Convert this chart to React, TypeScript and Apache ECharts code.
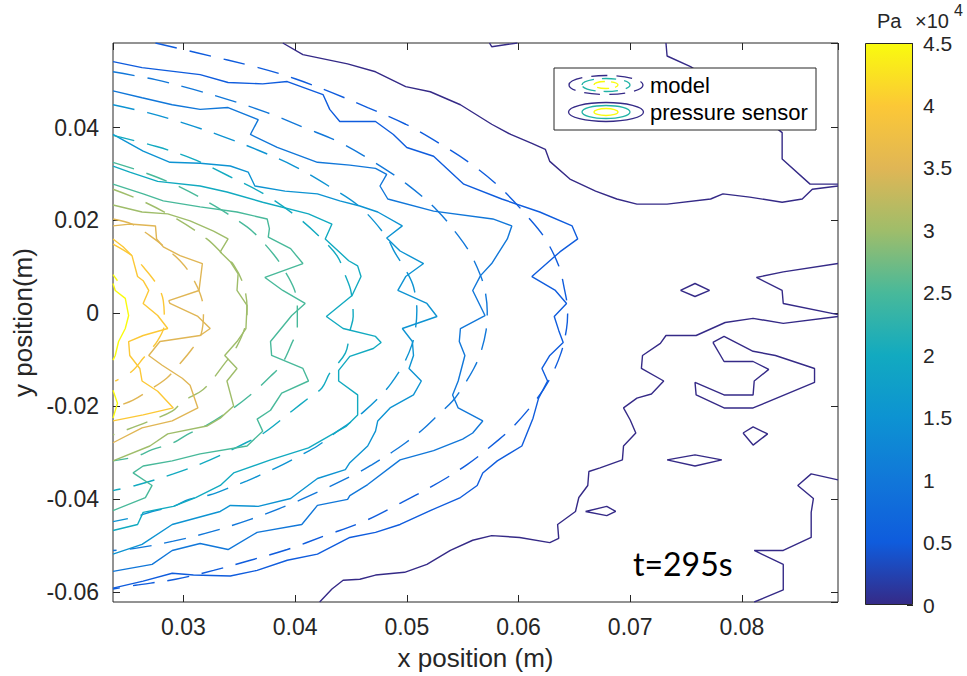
import React, { useEffect, useRef } from "react";
import * as echarts from "echarts";

// ---------- axis ticks (metres) and colour bar ticks (x10^4 Pa) ----------
const xTickLabels = [0.03, 0.04, 0.05, 0.06, 0.07, 0.08];
const yTickLabels = [-0.06, -0.04, -0.02, 0, 0.02, 0.04];
const colorbarTicks = [0, 0.5, 1, 1.5, 2, 2.5, 3, 3.5, 4, 4.5];
// contour levels in Pa (10 levels, 0 .. 45000)
const contourLevels = [0, 5000, 10000, 15000, 20000, 25000, 30000, 35000, 40000, 45000];
const pressureMax = 45000;

// ---------- contour polylines, coordinates in mm: [x, y] ----------
// level 1 (0 Pa) – pressure sensor
const sensorL1a = [[38.9,58.2],[40.7,55.7],[44.7,53.7],[47.2,52.0],[49.9,48.8],[52.1,47.7],[54.8,44.9],[57.6,40.7],[59.3,38.5],[61.2,36.6],[62.4,35.3],[62.8,32.7],[64.6,28.9],[66.9,26.3],[68.8,24.6],[70.6,23.5],[73.3,23.5],[77.2,24.6],[78.3,25.7],[80.7,25.0],[83.6,23.9],[85.4,24.6],[86.3,26.7],[88.6,27.4]];
const sensorL1b = [[73.2,58.2],[73.3,55.4],[75.4,53.1],[79.9,46.0],[83.6,38.9],[83.6,33.2],[86.1,27.8],[88.6,27.8]];
const sensorL1c = [[57.4,58.2],[57.6,57.4],[59.9,58.2]];
const sensorL1d = [[88.6,10.7],[83.7,8.9],[81.3,7.7],[83.6,4.9],[83.7,2.1],[88.6,-0.3]];
const sensorL1e = [[74.5,4.9],[75.8,6.4],[77.1,4.9],[75.8,3.6],[74.5,4.9]];
const sensorL1f = [[88.6,-0.7],[83.7,-2.2],[81.0,-1.1],[78.5,-2.0],[75.9,-4.8],[73.2,-4.8],[72.7,-6.5],[71.1,-9.1],[71.0,-11.9],[73.0,-14.6],[71.9,-17.4],[70.6,-18.3],[69.4,-20.4],[70.0,-23.0],[70.5,-25.8],[69.4,-28.6],[69.3,-31.6],[67.3,-33.3],[66.3,-34.1],[66.2,-37.1],[65.4,-39.7],[65.1,-42.7],[63.5,-45.5],[63.6,-48.5],[62.8,-49.4],[60.1,-48.3],[57.6,-47.9],[55.9,-48.9],[53.9,-51.1],[51.8,-54.1],[49.8,-55.8],[47.2,-56.4],[45.8,-57.3],[44.3,-57.5],[43.3,-59.4],[42.2,-62.2]];
const sensorL1g = [[77.4,-6.3],[78.4,-5.0],[81.0,-8.2],[83.0,-9.1],[86.5,-11.9],[86.5,-14.9],[81.0,-20.4],[78.4,-20.4],[75.9,-17.6],[75.8,-14.9],[78.4,-17.6],[81.0,-17.6],[81.1,-14.6],[82.4,-12.1],[81.0,-10.4],[78.4,-10.4],[77.4,-6.3]];
const sensorL1h = [[80.1,-25.8],[81.0,-24.5],[82.3,-26.0],[81.0,-28.4],[80.1,-25.8]];
const sensorL1i = [[73.3,-31.6],[75.8,-30.5],[78.2,-31.6],[75.8,-32.9],[73.3,-31.6]];
const sensorL1j = [[66.0,-42.7],[67.9,-41.6],[68.7,-42.7],[67.9,-43.6],[66.0,-42.7]];
const sensorL1k = [[88.6,-35.9],[86.2,-34.6],[85.0,-37.1],[86.4,-39.9],[86.2,-42.9],[86.2,-48.3],[83.7,-51.1],[81.1,-51.1],[83.7,-54.1],[83.7,-59.6],[81.1,-62.2]];

// level 2
const sensorL2 = [[23.7,54.2],[26.3,52.9],[31.5,51.4],[34.0,49.7],[37.1,49.4],[39.3,49.9],[42.5,47.1],[43.1,43.9],[44.0,41.3],[47.2,41.3],[48.8,38.5],[50.0,35.7],[52.4,33.8],[55.1,27.8],[58.5,24.6],[61.9,21.8],[64.8,18.8],[65.3,16.0],[63.7,13.2],[62.8,11.3],[61.2,7.9],[63.3,4.9],[64.3,2.1],[63.2,-0.7],[63.6,-3.7],[64.0,-6.3],[62.8,-9.1],[62.1,-11.9],[62.6,-14.6],[61.8,-18.3],[61.3,-22.6],[60.3,-28.6],[58.1,-31.8],[56.8,-34.4],[56.3,-37.1],[54.8,-39.7],[52.1,-42.5],[49.4,-45.5],[47.2,-47.2],[44.9,-48.3],[42.0,-51.9],[39.3,-53.2],[36.6,-55.4],[34.2,-56.6],[30.9,-56.4],[29.0,-56.0],[26.4,-57.7],[23.7,-59.2]];
const modelL2 = [[27.5,58.2],[31.2,56.1],[36.7,52.9],[40.0,50.5],[43.3,47.5],[46.5,44.3],[49.9,40.7],[52.9,36.6],[55.9,31.9],[58.6,26.5],[61.0,20.3],[62.4,16.0],[63.6,10.2],[64.1,5.3],[64.4,0.4],[64.3,-3.3],[63.8,-8.6],[62.7,-14.6],[61.5,-18.9],[59.5,-24.5],[58.1,-27.5],[55.4,-32.6],[52.4,-37.1],[49.2,-41.2],[46.1,-44.9],[42.7,-47.9],[39.3,-50.9],[36.0,-53.2],[32.7,-55.4],[29.3,-57.3],[25.7,-58.6],[23.7,-59.4]];

// level 3
const sensorL3 = [[23.7,47.9],[26.3,46.4],[29.0,44.9],[31.5,43.9],[34.0,44.3],[36.7,41.7],[36.0,38.5],[38.4,35.7],[42.0,32.5],[44.9,31.9],[47.2,31.2],[48.2,29.9],[47.6,27.4],[48.3,24.6],[52.4,22.0],[57.7,20.3],[59.4,18.8],[59.0,16.0],[57.6,10.7],[56.6,8.1],[55.9,4.9],[57.0,-0.5],[54.8,-3.3],[54.7,-6.1],[55.2,-9.1],[54.6,-14.6],[54.1,-17.6],[54.6,-20.4],[56.8,-23.2],[55.9,-25.8],[55.0,-27.1],[52.4,-29.6],[49.4,-31.6],[46.5,-36.9],[44.9,-39.3],[44.7,-40.1],[42.0,-41.4],[40.6,-45.5],[36.6,-47.2],[34.0,-50.9],[31.5,-49.6],[29.0,-51.1],[27.2,-54.1],[23.7,-55.6]];
const modelL3 = [[23.7,52.0],[27.5,50.3],[30.9,48.2],[34.3,45.8],[37.5,43.2],[40.8,40.0],[44.0,36.8],[47.1,32.5],[50.0,27.8],[52.7,22.2],[54.6,16.7],[55.7,12.8],[56.6,8.1],[57.0,4.9],[57.2,0.4],[57.1,-3.7],[56.6,-8.6],[56.0,-11.9],[55.0,-15.9],[54.1,-18.9],[52.5,-22.6],[51.5,-24.9],[49.9,-27.9],[48.7,-29.9],[46.9,-32.6],[45.6,-34.4],[42.5,-38.0],[39.3,-41.4],[36.0,-44.4],[32.6,-47.0],[29.1,-49.1],[25.8,-50.6],[23.7,-51.1]];

// level 4
const sensorL4 = [[23.7,38.5],[26.4,34.9],[28.8,32.5],[31.5,32.3],[34.2,31.7],[35.8,30.4],[36.4,27.4],[39.1,26.3],[42.0,25.7],[44.0,24.2],[45.8,23.1],[47.4,21.8],[49.6,18.8],[48.2,16.2],[49.4,13.4],[51.5,10.7],[49.9,7.9],[49.2,4.9],[51.8,2.1],[52.7,-0.7],[49.6,-3.3],[50.5,-6.1],[50.6,-9.1],[50.2,-11.9],[51.3,-14.6],[50.6,-17.6],[48.5,-20.4],[47.4,-23.2],[47.2,-25.4],[46.5,-28.6],[44.9,-32.2],[44.5,-33.7],[42.0,-35.6],[39.6,-39.9],[36.7,-41.6],[34.2,-41.4],[33.3,-42.7],[29.0,-45.5],[26.3,-49.8],[23.7,-51.9]];
const modelL4 = [[23.7,44.9],[26.8,43.2],[30.1,40.9],[33.5,38.1],[36.7,35.1],[39.9,31.7],[43.0,27.4],[45.8,22.9],[48.2,16.4],[48.9,13.2],[50.0,8.9],[50.6,5.7],[50.9,0.6],[50.8,-2.9],[50.5,-6.5],[49.7,-11.0],[48.6,-15.1],[47.6,-17.9],[46.1,-21.3],[44.9,-23.6],[43.8,-25.4],[42.0,-28.6],[40.4,-30.7],[38.9,-32.6],[37.1,-34.6],[35.7,-36.1],[33.9,-37.8],[32.4,-39.1],[30.5,-40.1],[29.1,-41.6],[27.2,-42.7],[25.8,-43.8],[23.7,-44.9]];

// level 5
const sensorL5 = [[23.7,31.7],[25.2,30.4],[27.7,28.4],[31.5,27.4],[33.9,26.1],[37.1,23.9],[41.2,21.4],[43.3,19.2],[42.7,16.0],[44.8,11.3],[45.6,10.2],[45.9,7.9],[45.1,3.8],[42.8,-0.7],[44.3,-3.3],[47.2,-5.0],[47.7,-6.3],[47.0,-7.6],[44.9,-9.3],[43.9,-12.3],[43.9,-14.6],[45.6,-17.6],[45.6,-21.9],[44.6,-24.3],[41.2,-29.0],[37.8,-31.6],[34.5,-34.4],[33.3,-37.1],[31.1,-39.7],[29.1,-41.6],[26.4,-42.9],[25.9,-45.5],[23.7,-46.8]];
const modelL5 = [[23.7,38.3],[27.6,35.9],[30.9,33.2],[34.1,29.5],[37.2,25.7],[40.1,20.9],[42.4,16.0],[43.8,12.2],[44.5,8.1],[45.0,4.7],[45.2,-0.7],[44.9,-3.9],[44.5,-8.6],[43.1,-12.9],[42.4,-16.1],[41.2,-18.3],[39.7,-21.1],[37.2,-25.8],[35.6,-27.9],[32.4,-31.6],[29.1,-34.6],[25.7,-37.1],[23.7,-38.2]];

// level 6
const sensorL6 = [[23.7,27.8],[26.4,25.7],[28.2,24.2],[31.5,22.9],[34.8,21.8],[37.5,20.3],[37.7,18.2],[37.6,16.4],[39.6,13.9],[40.7,10.7],[37.3,7.7],[38.9,4.9],[40.9,2.1],[39.7,-0.5],[37.8,-6.1],[37.9,-9.1],[40.7,-11.9],[41.2,-14.6],[38.8,-17.2],[37.8,-20.9],[36.6,-22.8],[37.1,-25.4],[35.7,-28.6],[31.5,-30.3],[29.0,-31.8],[26.4,-32.9],[25.5,-34.4],[27.2,-37.1],[26.6,-39.7],[23.7,-42.5]];
const modelL6 = [[23.7,32.5],[26.4,30.4],[29.5,27.4],[32.8,23.1],[35.7,18.6],[36.7,16.4],[38.1,12.6],[38.9,9.8],[39.9,5.3],[40.2,1.7],[40.2,-3.3],[39.7,-6.5],[38.8,-11.0],[37.8,-13.6],[36.2,-17.2],[34.2,-20.9],[32.1,-24.1],[30.3,-26.2],[29.1,-27.9],[27.2,-29.4],[25.7,-30.9],[23.7,-31.8]];

// level 7
const sensorL7 = [[23.7,23.3],[26.3,21.8],[28.6,21.4],[30.6,19.9],[32.7,17.7],[34.0,16.0],[33.3,13.2],[34.2,11.1],[34.9,8.5],[34.8,4.9],[35.7,1.7],[35.6,-3.3],[34.8,-6.1],[33.7,-9.1],[34.8,-11.9],[33.9,-14.6],[34.5,-20.0],[33.3,-22.6],[32.1,-24.3],[28.6,-26.0],[27.0,-28.6],[23.7,-31.8]];
const modelL7 = [[23.7,26.7],[26.3,24.2],[29.4,20.3],[32.1,16.0],[33.5,12.8],[34.5,10.4],[35.4,5.9],[35.7,1.0],[35.6,-2.2],[34.8,-7.1],[33.7,-10.8],[31.8,-16.4],[30.0,-18.9],[29.0,-21.1],[27.0,-23.2],[23.7,-26.2]];

// level 8
const sensorL8 = [[23.7,18.8],[25.2,19.2],[27.5,18.8],[27.6,16.0],[28.2,14.3],[29.7,12.4],[31.7,10.7],[31.4,4.9],[28.7,2.7],[28.8,2.1],[31.3,-0.7],[32.4,-3.3],[31.5,-4.8],[27.9,-6.1],[26.9,-9.1],[28.1,-11.2],[29.9,-14.0],[30.6,-15.5],[31.3,-20.4],[29.0,-23.2],[26.3,-24.7],[23.7,-27.9]];
const modelL8 = [[23.7,20.3],[25.4,19.2],[27.0,16.7],[28.2,14.5],[29.7,11.3],[30.6,8.5],[31.5,4.2],[31.8,0.6],[31.6,-4.4],[30.8,-7.6],[29.5,-11.4],[28.5,-14.0],[26.8,-16.8],[25.5,-18.7],[23.7,-20.4]];

// level 9
const sensorL9 = [[23.7,16.0],[24.6,14.3],[25.4,12.4],[25.9,7.9],[26.4,7.0],[26.9,4.9],[26.4,2.1],[27.7,-0.5],[28.6,-3.3],[26.4,-4.8],[25.1,-6.1],[25.2,-9.1],[26.1,-11.9],[26.3,-14.6],[27.7,-16.8],[29.1,-20.4],[26.4,-21.9],[23.7,-23.2]];
const modelL9 = [[23.7,14.9],[25.4,12.4],[26.4,10.0],[27.7,5.9],[28.2,2.7],[28.3,-2.2],[27.7,-5.9],[26.4,-9.7],[25.4,-12.5],[23.9,-14.6]];

// level 10
const sensorL10a = [[23.7,6.4],[23.9,4.9],[24.8,3.2],[25.1,-0.5],[24.8,-3.3],[24.2,-6.1],[23.9,-9.1],[23.7,-10.1]];
const sensorL10b = [[23.7,-16.6],[24.1,-19.4],[23.7,-22.6]];
const modelL10 = [[23.7,8.3],[24.1,7.0]];

const sensorByLevel = [
  [sensorL1a, sensorL1b, sensorL1c, sensorL1d, sensorL1e, sensorL1f, sensorL1g, sensorL1h, sensorL1i, sensorL1j, sensorL1k],
  [sensorL2], [sensorL3], [sensorL4], [sensorL5], [sensorL6], [sensorL7], [sensorL8], [sensorL9],
  [sensorL10a, sensorL10b],
];
const modelByLevel = [[], [modelL2], [modelL3], [modelL4], [modelL5], [modelL6], [modelL7], [modelL8], [modelL9], [modelL10]];

// ---------- styles ----------
const parulaStops = ["#352a87", "#0f5cdd", "#1177d9", "#0d93d2", "#12aac0", "#48b99a", "#9fbd6a", "#e0b655", "#fcc836", "#f9fb0e"];
const AXIS = "#262626";
const FONT = "Liberation Sans, Arial, Helvetica, sans-serif";

function levelColor(level: number) {
  const t = (level / pressureMax) * (parulaStops.length - 1);
  return parulaStops[Math.round(t)];
}

function matchTick(list: number[], v: number) {
  return list.find((t) => Math.abs(t - v) < 1e-7);
}

export default function App() {
  const ref = useRef<HTMLDivElement>(null);
  useEffect(() => {
    if (!ref.current) return;
    const chart = echarts.init(ref.current, null, { renderer: "svg" });
    const series: any[] = [];
    contourLevels.forEach((lvl, i) => {
      const color = levelColor(lvl);
      modelByLevel[i].forEach((poly) =>
        series.push({
          type: "line", xAxisIndex: 0, yAxisIndex: 0, data: poly, symbol: "none", smooth: 0.35,
          silent: true, lineStyle: { color, width: 1.4, type: [22, 13] }, z: 3,
        })
      );
      sensorByLevel[i].forEach((poly) =>
        series.push({
          type: "line", xAxisIndex: 0, yAxisIndex: 0, data: poly, symbol: "none", smooth: false,
          silent: true, lineStyle: { color, width: 1.4 }, z: 3,
        })
      );
    });
    series.push({
      type: "bar", xAxisIndex: 2, yAxisIndex: 2, data: [colorbarTicks[colorbarTicks.length - 1]],
      barWidth: "100%", silent: true,
      itemStyle: {
        borderColor: AXIS, borderWidth: 1,
        color: {
          type: "linear", x: 0, y: 1, x2: 0, y2: 0,
          colorStops: parulaStops.map((c, k) => ({ offset: k / (parulaStops.length - 1), color: c })),
        },
      },
    });

    const xFmt = (v: number) => {
      const t = matchTick(xTickLabels, v / 1000);
      return t === undefined ? "" : t.toFixed(2);
    };
    const yFmt = (v: number) => {
      const t = matchTick(yTickLabels, v / 1000);
      if (t === undefined) return "";
      return Math.abs(t) < 1e-9 ? "0" : t.toFixed(2);
    };
    const tickStyle = { show: true, inside: true, length: 7, lineStyle: { color: AXIS, width: 1 } };
    const labelStyle = { color: AXIS, fontSize: 23, fontFamily: FONT };

    const option: any = {
      animation: false,
      backgroundColor: "#fff",
      textStyle: { fontFamily: FONT },
      grid: [
        { left: 113, top: 43, width: 725, height: 562, show: true, borderColor: AXIS, borderWidth: 1, backgroundColor: "#fff" },
        { left: 865, top: 43, width: 48, height: 562 },
      ],
      xAxis: [
        {
          type: "value", gridIndex: 0, min: 23.7, max: 88.6, splitNumber: 6, position: "bottom",
          axisLine: { show: false, onZero: false }, splitLine: { show: false }, axisTick: tickStyle,
          axisLabel: { ...labelStyle, margin: 13, formatter: xFmt, showMinLabel: false, showMaxLabel: false },
          name: "x position (m)", nameLocation: "middle", nameGap: 43,
          nameTextStyle: { fontSize: 26, color: AXIS, fontFamily: FONT },
        },
        {
          type: "value", gridIndex: 0, min: 23.7, max: 88.6, splitNumber: 6, position: "top",
          axisLine: { show: false, onZero: false }, splitLine: { show: false }, axisTick: tickStyle,
          axisLabel: { show: false },
        },
        { type: "category", gridIndex: 1, data: ["Pa"], show: false },
      ],
      yAxis: [
        {
          type: "value", gridIndex: 0, min: -62.2, max: 58.2, splitNumber: 6, position: "left",
          axisLine: { show: false, onZero: false }, splitLine: { show: false }, axisTick: tickStyle,
          axisLabel: { ...labelStyle, margin: 14, formatter: yFmt, showMinLabel: false, showMaxLabel: false },
          name: "y position(m)", nameLocation: "middle", nameGap: 70,
          nameTextStyle: { fontSize: 26, color: AXIS, fontFamily: FONT },
        },
        {
          type: "value", gridIndex: 0, min: -62.2, max: 58.2, splitNumber: 6, position: "right",
          axisLine: { show: false, onZero: false }, splitLine: { show: false }, axisTick: tickStyle,
          axisLabel: { show: false },
        },
        {
          type: "value", gridIndex: 1, min: 0, max: 4.5, interval: 0.5, position: "right",
          axisLine: { show: false }, splitLine: { show: false },
          axisTick: { show: true, inside: true, length: 6, lineStyle: { color: AXIS, width: 1 } },
          axisLabel: {
            color: AXIS, fontSize: 21, fontFamily: FONT, margin: 10,
            formatter: (v: number) => {
              const t = matchTick(colorbarTicks, v);
              return t === undefined ? "" : String(t);
            },
          },
        },
      ],
      series,
      graphic: {
        elements: [
          { type: "rect", z: 100, shape: { x: 554, y: 68, width: 262, height: 62 }, style: { fill: "#fff", stroke: AXIS, lineWidth: 1 } },
          { type: "ellipse", z: 101, shape: { cx: 606, cy: 85, rx: 37, ry: 9.5 }, style: { fill: "none", stroke: "#352a87", lineWidth: 1.3, lineDash: [16, 9] } },
          { type: "ellipse", z: 101, shape: { cx: 606, cy: 85, rx: 24, ry: 6.5 }, style: { fill: "none", stroke: "#22b3a6", lineWidth: 1.3, lineDash: [14, 8] } },
          { type: "ellipse", z: 101, shape: { cx: 606, cy: 85, rx: 12, ry: 3.5 }, style: { fill: "none", stroke: "#f9fb0e", lineWidth: 1.3, lineDash: [12, 6] } },
          { type: "ellipse", z: 101, shape: { cx: 606, cy: 112, rx: 37.5, ry: 9.5 }, style: { fill: "none", stroke: "#352a87", lineWidth: 1.3 } },
          { type: "ellipse", z: 101, shape: { cx: 606, cy: 112, rx: 24, ry: 6.5 }, style: { fill: "none", stroke: "#22b3a6", lineWidth: 1.3 } },
          { type: "ellipse", z: 101, shape: { cx: 606, cy: 112, rx: 12, ry: 3.5 }, style: { fill: "none", stroke: "#f9fb0e", lineWidth: 1.3 } },
          { type: "text", z: 101, x: 650, y: 85, style: { text: "model", fill: "#000", fontSize: 22, fontFamily: FONT, align: "left", verticalAlign: "middle" } },
          { type: "text", z: 101, x: 650, y: 112, style: { text: "pressure sensor", fill: "#000", fontSize: 22, fontFamily: FONT, align: "left", verticalAlign: "middle" } },
          { type: "text", z: 101, x: 877, y: 21, style: { text: "Pa", fill: AXIS, fontSize: 20, fontFamily: FONT, align: "left", verticalAlign: "middle" } },
          { type: "text", z: 101, x: 915, y: 21, style: { text: "×10", fill: AXIS, fontSize: 20, fontFamily: FONT, align: "left", verticalAlign: "middle" } },
          { type: "text", z: 101, x: 954, y: 10, style: { text: "4", fill: AXIS, fontSize: 16, fontFamily: FONT, align: "left", verticalAlign: "middle" } },
          { type: "text", z: 101, x: 633, y: 563, style: { text: "t=295s", fill: "#000", fontSize: 32, fontFamily: "Lato, Open Sans, sans-serif", align: "left", verticalAlign: "middle" } },
        ],
      },
    };
    chart.setOption(option);
    return () => chart.dispose();
  }, []);
  return <div ref={ref} style={{ position: "fixed", left: 0, top: 0, width: 967, height: 676 }} />;
}
